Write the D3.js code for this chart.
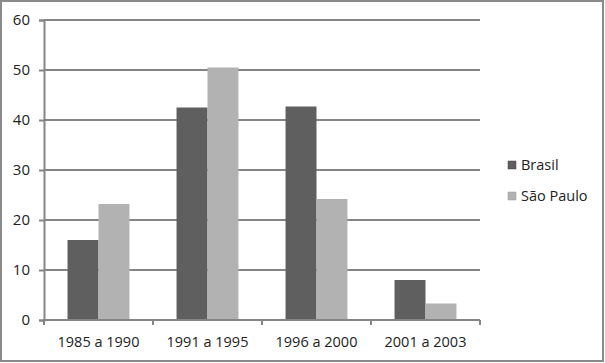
<!DOCTYPE html>
<html><head><meta charset="utf-8">
<script src="https://cdn.jsdelivr.net/npm/d3@7"></script>
<style>body{margin:0;background:#fff}svg{display:block}text{font-family:"Open Sans",sans-serif;fill:#222}</style>
</head><body><svg id="c" width="605" height="363"></svg>
<script>
const categories = ["1985 a 1990","1991 a 1995","1996 a 2000","2001 a 2003"];
const seriesNames = ["Brasil","São Paulo"];
const brasil = [16, 42.5, 42.7, 8];
const saoPaulo = [23.2, 50.5, 24.2, 3.3];
const yTicks = [0,10,20,30,40,50,60];
const colors = ["#5f5f5f","#b2b2b2"];

const svg = d3.select("#c");
svg.append("rect").attr("x",1).attr("y",1).attr("width",602).attr("height",360)
  .attr("fill","#fff").attr("stroke","#8a8a8a").attr("stroke-width",2);

const x0 = d3.scaleBand().domain(categories).range([44,480]).paddingInner(0).paddingOuter(0);
const x1 = d3.scaleBand().domain(seriesNames).range([0,x0.bandwidth()]).paddingInner(0).paddingOuter(0.76);
const y = d3.scaleLinear().domain([0,60]).range([320,20]);

const g = svg.append("g");
g.selectAll("line.grid").data(yTicks).join("line")
  .attr("x1",44).attr("x2",480).attr("y1",d=>y(d)).attr("y2",d=>y(d))
  .attr("stroke","#858585").attr("stroke-width",2);

const data = [brasil, saoPaulo];
categories.forEach((c,i)=>{
  seriesNames.forEach((s,j)=>{
    g.append("rect").attr("x",x0(c)+x1(s)).attr("width",x1.bandwidth())
      .attr("y",y(data[j][i])).attr("height",y(0)-y(data[j][i]))
      .attr("fill",colors[j]);
  });
});

const yAxis = d3.axisLeft(y).tickValues(yTicks).tickSize(5).tickPadding(9);
const ya = svg.append("g").attr("transform","translate(44,0)").call(yAxis);
ya.select(".domain").attr("stroke","#858585").attr("stroke-width",2);
ya.selectAll(".tick line").attr("stroke","#858585").attr("stroke-width",2);
ya.selectAll("text").style("font-size","15px").attr("fill","#222");

const xa = svg.append("g").attr("transform","translate(0,320)");
xa.append("line").attr("x1",43).attr("x2",480).attr("y1",0).attr("y2",0).attr("stroke","#858585").attr("stroke-width",2);
const bounds = categories.map(c=>x0(c)).concat([x0.range()[1]]);
xa.selectAll("line.t").data(bounds).join("line").attr("class","t")
  .attr("x1",d=>d).attr("x2",d=>d).attr("y1",0).attr("y2",5).attr("stroke","#858585").attr("stroke-width",2);
xa.selectAll("text").data(categories).join("text")
  .attr("x",d=>x0(d)+x0.bandwidth()/2).attr("y",27).attr("text-anchor","middle")
  .style("font-size","14.5px").text(d=>d);

const lg = svg.append("g").attr("transform","translate(508,0)");
seriesNames.forEach((s,j)=>{
  const cy = 165 + j*31;
  lg.append("rect").attr("x",0).attr("y",cy-4).attr("width",8).attr("height",8)
    .attr("fill",colors[j]).attr("stroke", j===0?"#444":"#999").attr("stroke-width",0.5);
  lg.append("text").attr("x",13).attr("y",cy+5).style("font-size","14.5px").text(s);
});
</script></body></html>
